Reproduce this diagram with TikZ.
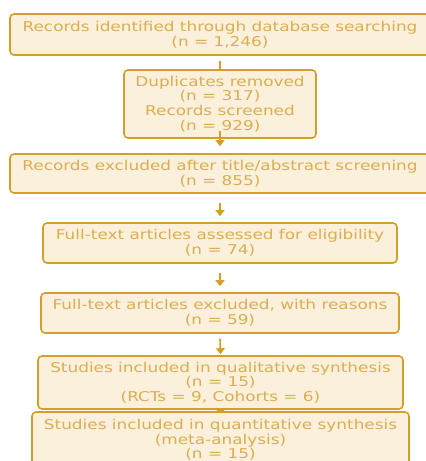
\documentclass[tikz,border=0pt]{standalone}
\usepackage{fontspec}
\setmainfont[FakeStretch=1.25]{DejaVu Sans}
\usetikzlibrary{arrows.meta}
\definecolor{bord}{HTML}{D49E2A}
\definecolor{boxfill}{HTML}{FAF0DC}
\definecolor{txt}{HTML}{DCAE50}
\pgfdeclarelayer{bg}
\pgfsetlayers{bg,main}
\tikzset{
  flowbox/.style={draw=bord, fill=boxfill, line width=1.6pt, rounded corners=4pt,
    text=txt, align=center, inner sep=0pt,
    font=\fontsize{13.5}{14.6}\selectfont},
  flowarrow/.style={draw=bord, line width=1.8pt, -{Triangle[length=6pt,width=9pt]}}
}
\begin{document}
\begin{tikzpicture}[x=1pt,y=-1pt]
\useasboundingbox (0,0) rectangle (426,461);
\node[flowbox, minimum width=420, minimum height=41] (b1) at (220,34.5)
  {Records identified through database searching\\(n = 1,246)};
\node[flowbox, minimum width=192, minimum height=68] (b2) at (220,104)
  {Duplicates removed\\(n = 317)\\Records screened\\(n = 929)};
\begin{pgfonlayer}{bg}
\draw[flowarrow, shorten >=-7pt] (b1.south) ++(0,5) -- (b2.north);
\end{pgfonlayer}
\node[flowbox, minimum width=420, minimum height=39] (b3) at (220,173.5)
  {Records excluded after title/abstract screening\\(n = 855)};
\draw[flowarrow, shorten <=-8pt, shorten >=7pt] (b2.south) -- (b3.north);
\node[flowbox, minimum width=354, minimum height=40] (b4) at (220,243)
  {Full-text articles assessed for eligibility\\(n = 74)};
\draw[flowarrow, shorten <=9pt, shorten >=6pt] (b3.south) -- (b4.north);
\node[flowbox, minimum width=358, minimum height=40] (b5) at (220,313)
  {Full-text articles excluded, with reasons\\(n = 59)};
\draw[flowarrow, shorten <=9pt, shorten >=6pt] (b4.south) -- (b5.north);
\node[flowbox, minimum width=365, minimum height=53] (b6) at (220.5,382.5)
  {Studies included in qualitative synthesis\\(n = 15)\\(RCTs = 9, Cohorts = 6)};
\draw[flowarrow, shorten <=5pt, shorten >=1pt] (b5.south) -- (b6.north);
\node[flowbox, minimum width=377, minimum height=56] (b7) at (220.5,440)
  {Studies included in quantitative synthesis\\(meta-analysis)\\(n = 15)};
\begin{pgfonlayer}{bg}
\draw[flowarrow, shorten <=-12pt, shorten >=-4pt] (b6.south) -- (b7.north);
\end{pgfonlayer}
\end{tikzpicture}
\end{document}
